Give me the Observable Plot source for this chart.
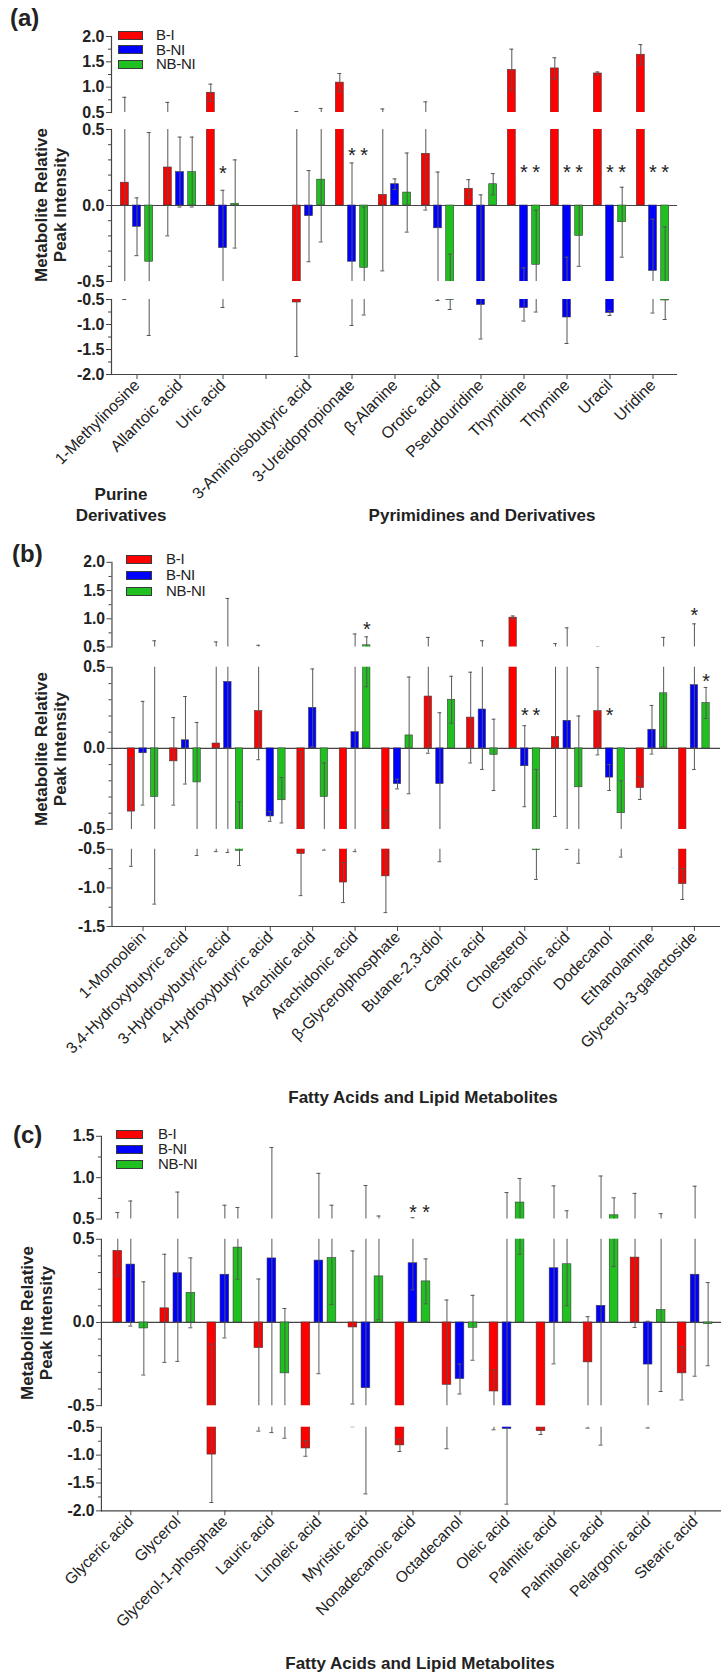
<!DOCTYPE html>
<html><head><meta charset="utf-8">
<script src="https://cdn.jsdelivr.net/npm/d3@7"></script>
<script src="https://cdn.jsdelivr.net/npm/@observablehq/plot@0.6"></script>
<style>
html,body{margin:0;padding:0;background:#fff;}
#root{position:relative;width:725px;height:1675px;overflow:hidden;font-family:"Liberation Sans",Arial,sans-serif;color:#222;}
.abs{position:absolute;white-space:nowrap;}
.seg{position:absolute;left:0;}
.seg svg{overflow:visible;}
.seg svg [aria-label="x-axis tick label"], .seg svg [aria-label="x-axis tick label"] text{font-size:16px !important;font-family:"Liberation Sans",Arial,sans-serif !important;}
.seg svg [aria-label="y-axis tick label"], .seg svg [aria-label="y-axis tick label"] text{font-size:16px !important;font-weight:bold !important;font-family:"Liberation Sans",Arial,sans-serif !important;}
</style></head><body><div id="root"></div>
<script>
// ---------- shared ----------
const series = ["B-I", "B-NI", "NB-NI"];
const colors = ["#ff0000", "#0000ff", "#1fc01f"];

// ---------- panel (a) ----------
const catsA = ["1-Methylinosine", "Allantoic acid", "Uric acid", "", "3-Aminoisobutyric acid", "3-Ureidopropionate", "β-Alanine", "Orotic acid", "Pseudouridine", "Thymidine", "Thymine", "Uracil", "Uridine"];
const biA    = [0.15, 0.25, 0.89, null, -0.56, 1.09, 0.07, 0.34, 0.11, 1.34, 1.37, 1.27, 1.64];
const biSdA  = [0.65, 0.45, 0.17, null, 1.08, 0.18, 0.50, 0.37, 0.06, 0.41, 0.21, 0.03, 0.20];
const bniA   = [-0.14, 0.22, -0.28, null, -0.07, -0.37, 0.14, -0.15, -0.61, -0.67, -0.86, -0.77, -0.43];
const bniSdA = [0.19, 0.23, 0.38, null, 0.30, 0.65, 0.035, 0.37, 0.68, 0.26, 0.52, 0.05, 0.34];
const nbA    = [-0.37, 0.22, 0.01, null, 0.17, -0.41, 0.085, -0.51, 0.14, -0.39, -0.20, -0.11, -0.52];
const nbSdA  = [0.85, 0.23, 0.29, null, 0.41, 0.40, 0.26, 0.19, 0.07, 0.36, 0.20, 0.23, 0.38];
const starsA = [
  ["Uric acid", "B-NI", 0.24], ["3-Ureidopropionate", "B-NI", 0.36], ["3-Ureidopropionate", "NB-NI", 0.36],
  ["Thymidine", "B-NI", 0.25], ["Thymidine", "NB-NI", 0.25], ["Thymine", "B-NI", 0.25], ["Thymine", "NB-NI", 0.25],
  ["Uracil", "B-NI", 0.25], ["Uracil", "NB-NI", 0.25], ["Uridine", "B-NI", 0.25], ["Uridine", "NB-NI", 0.25]
];

// ---------- panel (b) ----------
const catsB = ["1-Monoolein", "3,4-Hydroxybutyric acid", "3-Hydroxybutyric acid", "4-Hydroxybutyric acid", "Arachidic acid", "Arachidonic acid", "β-Glycerolphosphate", "Butane-2,3-diol", "Capric acid", "Cholesterol", "Citraconic acid", "Dodecanol", "Ethanolamine", "Glycerol-3-galactoside"];
const biB    = [-0.39, -0.08, 0.03, 0.23, -0.56, -0.93, -0.85, 0.32, 0.19, 1.02, 0.07, 0.23, -0.245, -0.95];
const biSdB  = [0.33, 0.27, 0.56, 0.30, 0.54, 0.26, 0.47, 0.35, 0.28, 0.03, 0.49, 0.27, 0.07, 0.20];
const bniB   = [-0.03, 0.05, 0.41, -0.42, 0.25, 0.10, -0.22, -0.22, 0.24, -0.11, 0.17, -0.18, 0.115, 0.39];
const bniSdB = [0.32, 0.27, 0.95, 0.03, 0.24, 0.63, 0.03, 0.44, 0.37, 0.25, 0.67, 0.08, 0.15, 0.52];
const nbB    = [-0.30, -0.21, -0.52, -0.32, -0.30, 0.53, 0.08, 0.30, -0.04, -0.51, -0.24, -0.40, 0.34, 0.28];
const nbSdB  = [0.91, 0.37, 0.19, 0.14, 0.21, 0.15, 0.36, 0.145, 0.22, 0.38, 0.44, 0.20, 0.33, 0.096];
const starsB = [
  ["Arachidonic acid", "NB-NI", 0.90], ["Cholesterol", "B-NI", 0.23], ["Cholesterol", "NB-NI", 0.23],
  ["Dodecanol", "B-NI", 0.23], ["Glycerol-3-galactoside", "B-NI", 1.14], ["Glycerol-3-galactoside", "NB-NI", 0.44]
];

// ---------- panel (c) ----------
const catsC = ["Glyceric acid", "Glycerol", "Glycerol-1-phosphate", "Lauric acid", "Linoleic acid", "Myristic acid", "Nonadecanoic acid", "Octadecanol", "Oleic acid", "Palmitic acid", "Palmitoleic acid", "Pelargonic acid", "Stearic acid"];
const biC    = [0.43, 0.085, -0.99, -0.154, -0.88, -0.03, -0.825, -0.375, -0.415, -0.57, -0.24, 0.39, -0.306];
const biSdC  = [0.15, 0.325, 0.86, 0.415, 0.14, 0.46, 0.11, 0.51, 0.13, 0.06, 0.275, 0.42, 0.16];
const bniC   = [0.348, 0.296, 0.287, 0.385, 0.372, -0.395, 0.356, -0.34, -0.53, 0.326, 0.10, -0.253, 0.287];
const bniSdC = [0.37, 0.53, 0.38, 0.98, 0.68, 1.30, 0.16, 0.09, 1.35, 0.575, 0.92, 0.26, 0.61];
const nbC    = [-0.036, 0.178, 0.45, -0.306, 0.387, 0.277, 0.247, -0.032, 0.70, 0.35, 0.546, 0.075, -0.01];
const nbSdC  = [0.28, 0.21, 0.19, 0.39, 0.28, 0.26, 0.135, 0.195, 0.29, 0.25, 0.21, 0.49, 0.25];
const starsC = [["Nonadecanoic acid", "B-NI", 0.64], ["Nonadecanoic acid", "NB-NI", 0.64]];

// ---------- axis tick values ----------
const majTop20 = [0.5, 1.0, 1.5, 2.0], minTop20 = [0.75, 1.25, 1.75];
const majTop15 = [0.5, 1.0, 1.5], minTop15 = [0.75, 1.25];
const majMid = [-0.5, 0, 0.5], minMid = [-0.4, -0.3, -0.2, -0.1, 0.1, 0.2, 0.3, 0.4];
const majBot20 = [-2.0, -1.5, -1.0, -0.5], minBot20 = [-1.75, -1.25, -0.75];
const majBot15 = [-1.5, -1.0, -0.5], minBot15 = [-1.25, -0.75];

const root = document.getElementById("root");
const FONT = '"Liberation Sans", Arial, sans-serif';
const AX = "#444";

function rowsOf(cats, vals, sds) {
  const out = [];
  series.forEach((s, si) => cats.forEach((c, i) => {
    if (vals[si][i] != null) out.push({cat: c, series: s, value: vals[si][i], sd: sds[si][i]});
  }));
  return out;
}

function addDiv(html, css) {
  const d = document.createElement("div");
  d.className = "abs";
  d.innerHTML = html;
  Object.assign(d.style, css);
  root.appendChild(d);
  return d;
}

function panel(cfg) {
  const rows = rowsOf(cfg.cats, cfg.vals, cfg.sds);
  const stars = cfg.stars.map(([cat, s, y]) => ({cat, series: s, y}));
  const step = (cfg.range[1] - cfg.range[0]) / cfg.cats.length;
  const barIns = (step - cfg.barW) / 2;
  const capIns = (step - 4.5) / 2;
  cfg.segs.forEach((seg, k) => {
    const isBot = k === cfg.segs.length - 1;
    const mt = 10, mb = isBot ? 200 : 10;
    const h = (seg.yBot - seg.yTop) + mt + mb;
    const [lo, hi] = seg.dom;
    const marks = [];
    if (lo < 0 && hi > 0) marks.push(Plot.ruleY([0], {stroke: AX, strokeWidth: 1.2}));
    series.forEach((s, si) => {
      const d = rows.filter(r => r.series === s);
      const dx = (si - 1) * cfg.off;
      marks.push(Plot.barY(d, {x: "cat", y: "value", fill: colors[si], stroke: "#3a3a3a", strokeWidth: 0.6,
        dx, insetLeft: barIns, insetRight: barIns, clip: true}));
    });
    series.forEach((s, si) => {
      const d = rows.filter(r => r.series === s);
      const dx = (si - 1) * cfg.off;
      marks.push(Plot.ruleX(d, {x: "cat", y1: r => r.value - r.sd, y2: r => r.value + r.sd, dx,
        stroke: "#555", strokeWidth: 1, clip: true}));
      marks.push(Plot.tickY(d, {x: "cat", y: r => r.value + r.sd, dx, insetLeft: capIns, insetRight: capIns,
        stroke: "#555", strokeWidth: 1, clip: true}));
      marks.push(Plot.tickY(d, {x: "cat", y: r => r.value - r.sd, dx, insetLeft: capIns, insetRight: capIns,
        stroke: "#555", strokeWidth: 1, clip: true}));
      const st = stars.filter(t => t.series === s && t.y >= lo && t.y <= hi);
      if (st.length) marks.push(Plot.text(st, {x: "cat", y: "y", text: () => "*", dx, dy: 5,
        fontSize: 20, fill: "#222", fontFamily: FONT}));
    });
    marks.push(Plot.axisY({ticks: seg.maj, tickFormat: v => v.toFixed(1), tickSize: 5, tickPadding: 2,
      fontSize: 16, fontWeight: "bold", fill: "#222", stroke: AX, label: null}));
    marks.push(Plot.axisY({ticks: seg.min, tickFormat: () => "", tickSize: 3, stroke: AX, label: null}));
    marks.push(Plot.frame({anchor: "left", stroke: AX, strokeWidth: 1.2}));
    if (isBot) {
      marks.push(Plot.ruleY([lo], {stroke: AX, strokeWidth: 1.2}));
      marks.push(Plot.axisX({tickRotate: -45, tickSize: 5, tickPadding: 3, fontSize: 16, fill: "#222",
        stroke: AX, label: null, tickFormat: d => d}));
    }
    const chart = Plot.plot({
      width: cfg.width, height: h,
      marginLeft: cfg.axisX, marginRight: cfg.width - cfg.range[1], marginTop: mt, marginBottom: mb,
      x: {type: "band", domain: cfg.cats, range: cfg.range, padding: 0, ...(isBot ? {} : {axis: null})},
      y: {domain: seg.dom, label: null},
      style: {fontFamily: FONT, fontSize: "16px", color: "#222", background: "transparent", overflow: "visible"},
      marks
    });
    const wrap = document.createElement("div");
    wrap.className = "seg";
    wrap.style.top = (seg.yTop - mt) + "px";
    wrap.appendChild(chart);
    root.appendChild(wrap);
  });

  // panel letter
  addDiv(cfg.letter, {left: cfg.letterX + "px", top: (cfg.letterY - 14) + "px", fontSize: "24px",
    fontWeight: "bold", lineHeight: "28px"});
  // y title
  const mid = cfg.segs[1];
  addDiv("Metabolite Relative<br>Peak Intensity", {left: cfg.titleX + "px", top: ((mid.yTop + mid.yBot) / 2) + "px",
    transform: "translate(-50%,-50%) rotate(-90deg)", fontSize: "17px", fontWeight: "bold",
    lineHeight: "19px", textAlign: "center"});
  // legend
  series.forEach((s, i) => {
    const cy = cfg.legY[i];
    addDiv("", {left: cfg.legX + "px", top: (cy - 4.5) + "px", width: cfg.legW + "px", height: "9px",
      background: colors[i], border: "0.6px solid #3a3a3a", boxSizing: "border-box"});
    addDiv(s, {left: cfg.legTX + "px", top: (cy - 9) + "px", fontSize: "15px", lineHeight: "18px",
      letterSpacing: "-0.3px"});
  });
  // group labels
  cfg.groups.forEach(g => addDiv(g.text, {left: g.x + "px", top: g.y + "px", transform: "translate(-50%,-50%)",
    fontSize: "17px", fontWeight: "bold", lineHeight: "21px", textAlign: "center"}));
}

panel({
  letter: "(a)", letterX: 10, letterY: 18,
  cats: catsA, vals: [biA, bniA, nbA], sds: [biSdA, bniSdA, nbSdA], stars: starsA,
  width: 725, axisX: 111, range: [111, 677], barW: 8.5, off: 12.2,
  segs: [
    {dom: [0.5, 2.0], yTop: 36, yBot: 112, maj: majTop20, min: minTop20},
    {dom: [-0.5, 0.5], yTop: 129, yBot: 281, maj: majMid, min: minMid},
    {dom: [-2.0, -0.5], yTop: 299, yBot: 374, maj: majBot20, min: minBot20}
  ],
  titleX: 51, legX: 118, legW: 25, legTX: 156, legY: [35, 49.5, 64],
  groups: [{text: "Purine<br>Derivatives", x: 121, y: 505}, {text: "Pyrimidines and Derivatives", x: 482, y: 515}]
});

panel({
  letter: "(b)", letterX: 12, letterY: 554,
  cats: catsB, vals: [biB, bniB, nbB], sds: [biSdB, bniSdB, nbSdB], stars: starsB,
  width: 735, axisX: 113, range: [117.8, 730], barW: 8.2, off: 11.8,
  segs: [
    {dom: [0.5, 2.0], yTop: 561.7, yBot: 647.5, maj: majTop20, min: minTop20},
    {dom: [-0.5, 0.5], yTop: 666.7, yBot: 831, maj: majMid, min: minMid},
    {dom: [-1.5, -0.5], yTop: 849.3, yBot: 927.5, maj: majBot15, min: minBot15}
  ],
  titleX: 51, legX: 126, legW: 26, legTX: 166, legY: [559, 575, 591],
  groups: [{text: "Fatty Acids and Lipid Metabolites", x: 423, y: 1097}]
});

panel({
  letter: "(c)", letterX: 13, letterY: 1135,
  cats: catsC, vals: [biC, bniC, nbC], sds: [biSdC, bniSdC, nbSdC], stars: starsC,
  width: 740, axisX: 103, range: [106.6, 736], barW: 9.3, off: 13.3,
  segs: [
    {dom: [0.5, 1.5], yTop: 1136, yBot: 1220.5, maj: majTop15, min: minTop15},
    {dom: [-0.5, 0.5], yTop: 1238.5, yBot: 1408.3, maj: majMid, min: minMid},
    {dom: [-2.0, -0.5], yTop: 1426.5, yBot: 1511.8, maj: majBot20, min: minBot20}
  ],
  titleX: 37, legX: 116, legW: 27, legTX: 158, legY: [1134, 1149, 1164],
  groups: [{text: "Fatty Acids and Lipid Metabolites", x: 420, y: 1663}]
});
</script></body></html>
